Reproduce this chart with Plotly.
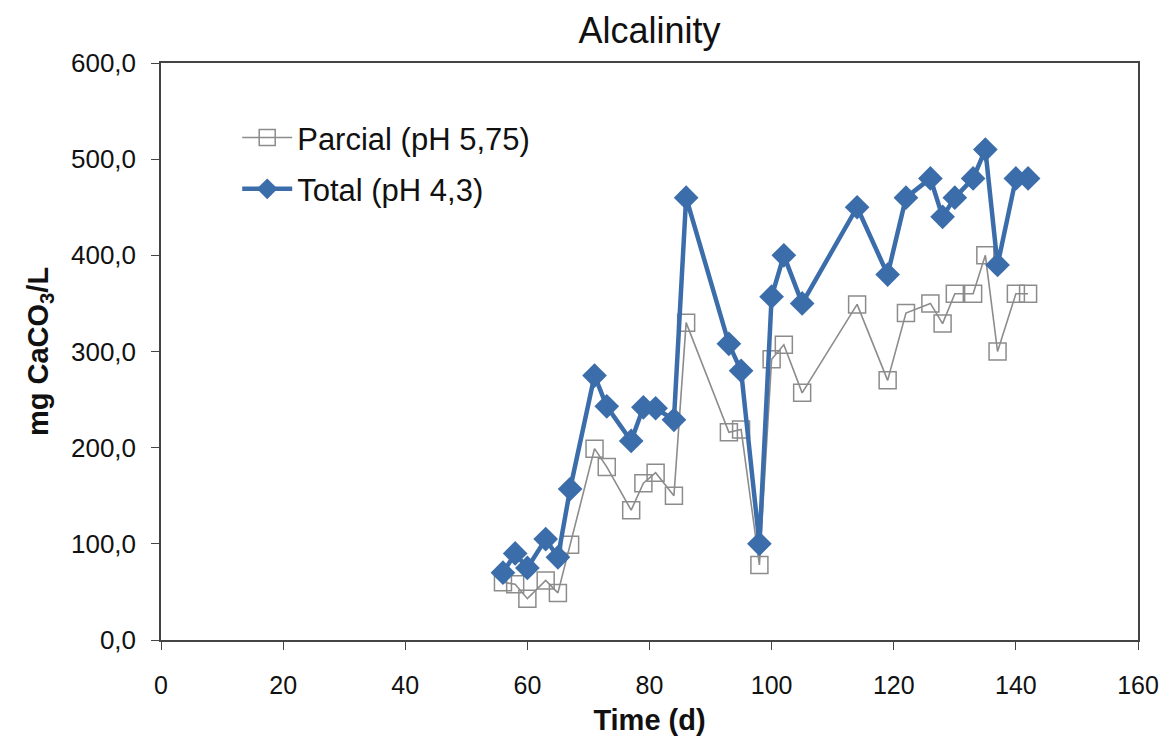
import plotly.graph_objects as go

# Sampling days and alkalinity (mg CaCO3/L)
days_parcial = [56, 58, 60, 63, 65, 67, 71, 73, 77, 79, 81, 84, 86, 93, 95, 98, 100, 102, 105, 114, 119, 122, 126, 128, 130, 133, 135, 137, 140, 142]
parcial = [60, 58, 43, 62, 49, 99, 199, 180, 135, 163, 174, 150, 330, 216, 219, 78, 292, 307, 257, 349, 270, 340, 350, 329, 360, 360, 400, 300, 360, 360]

days_total = [56, 58, 60, 63, 65, 67, 71, 73, 77, 79, 81, 84, 86, 93, 95, 98, 100, 102, 105, 114, 119, 122, 126, 128, 130, 133, 135, 137, 140, 142]
total = [70, 90, 75, 105, 86, 157, 275, 243, 207, 242, 241, 229, 460, 308, 280, 100, 357, 400, 350, 450, 380, 460, 480, 440, 460, 480, 510, 390, 480, 480]

GRAY = "#8c8c8c"
BLUE = "#3c6dab"
FONT = "Liberation Sans, Arial, sans-serif"

fig = go.Figure()
fig.add_trace(go.Scatter(
    x=days_parcial, y=parcial, name="Parcial (pH 5,75)", mode="lines+markers",
    line=dict(color=GRAY, width=1.6),
    marker=dict(symbol="square-open", size=17, color=GRAY, line=dict(width=1.5, color=GRAY)),
    legendgroup="a",
))
fig.add_trace(go.Scatter(
    x=days_total, y=total, name="Total (pH 4,3)", mode="lines+markers",
    line=dict(color=BLUE, width=4.5),
    marker=dict(symbol="diamond", size=19, color=BLUE),
    legendgroup="b",
))

fig.update_layout(
    width=1171, height=746,
    margin=dict(l=161, r=28, t=63, b=106),
    paper_bgcolor="white", plot_bgcolor="white",
    separators=",.",
    font=dict(family=FONT, size=25, color="#111"),
    title=dict(text="Alcalinity", x=0.5, xref="paper", y=1 - 30 / 746, yanchor="middle",
               font=dict(size=36, family=FONT, color="#111")),
    legend=dict(x=0.078, y=0.917, xanchor="left", yanchor="top",
                font=dict(size=31, family=FONT, color="#111"),
                bgcolor="rgba(0,0,0,0)", tracegroupgap=8, itemwidth=50),
    showlegend=True,
)
fig.update_xaxes(
    range=[0, 160], tickvals=list(range(0, 161, 20)),
    ticks="outside", ticklen=8, tickcolor="#444", ticklabelstandoff=14,
    showline=True, linecolor="#444", linewidth=1.5, mirror=True,
    showgrid=False, zeroline=False,
    title=dict(text="<b>Time (d)</b>", font=dict(size=29, family=FONT), standoff=12),
    tickfont=dict(size=25),
)
fig.update_yaxes(
    range=[0, 600], tickvals=list(range(0, 601, 100)), tickformat=".1f",
    ticks="outside", ticklen=8, tickcolor="#444", ticklabelstandoff=10,
    showline=True, linecolor="#444", linewidth=1.5, mirror=True,
    showgrid=False, zeroline=False,
    title=dict(text="<b>mg CaCO<sub>3</sub>/L</b>", font=dict(size=29, family=FONT), standoff=14),
    tickfont=dict(size=26),
)

fig.write_html("out.html")
